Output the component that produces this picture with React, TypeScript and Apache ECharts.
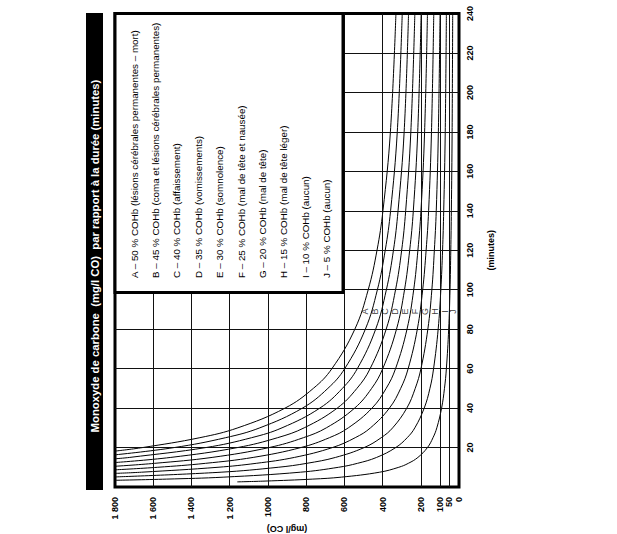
import React, { useEffect, useRef } from 'react';
import * as echarts from 'echarts';

const FONT = '"Liberation Sans", Arial, Helvetica, sans-serif';

// Curves: [minutes, mg/l CO]
const CURVE_NAMES = ['A', 'B', 'C', 'D', 'E', 'F', 'G', 'H', 'I', 'J'];
const CURVE_A = [[18.2, 1800], [20, 1655], [25, 1356], [30, 1157], [40, 910], [50, 762], [60, 665], [80, 545], [100, 475], [120, 429], [140, 398], [180, 359], [240, 330]];
const CURVE_B = [[16.3, 1800], [20, 1489], [25, 1221], [30, 1042], [40, 819], [50, 686], [60, 598], [80, 490], [100, 427], [120, 386], [140, 358], [180, 323], [240, 297]];
const CURVE_C = [[14.3, 1800], [15, 1723], [20, 1324], [25, 1085], [30, 926], [40, 728], [50, 610], [60, 532], [80, 436], [100, 380], [120, 343], [140, 319], [180, 287], [240, 264]];
const CURVE_D = [[12.4, 1800], [15, 1508], [20, 1158], [25, 949], [30, 810], [40, 637], [50, 534], [60, 465], [80, 381], [100, 332], [120, 300], [140, 279], [180, 252], [240, 231]];
const CURVE_E = [[10.5, 1800], [12, 1592], [15, 1292], [20, 993], [25, 814], [30, 694], [40, 546], [50, 457], [60, 399], [80, 327], [100, 285], [120, 258], [140, 239], [180, 216], [240, 198]];
const CURVE_F = [[8.7, 1800], [10, 1576], [12, 1326], [15, 1077], [20, 827], [25, 678], [30, 579], [40, 455], [50, 381], [60, 332], [80, 272], [100, 237], [120, 215], [140, 199], [180, 180], [240, 165]];
const CURVE_G = [[6.9, 1800], [7.5, 1661], [10, 1261], [12, 1061], [15, 861], [20, 662], [25, 543], [30, 463], [40, 364], [50, 305], [60, 266], [80, 218], [100, 190], [120, 172], [140, 159], [180, 144], [240, 132]];
const CURVE_H = [[5.1, 1800], [7.5, 1245], [10, 946], [12, 796], [15, 646], [20, 496], [25, 407], [30, 347], [40, 273], [50, 229], [60, 199], [80, 163], [100, 142], [120, 129], [140, 119], [180, 108], [240, 99]];
const CURVE_I = [[3.4, 1800], [4, 1530], [5, 1230], [7.5, 830], [10, 630], [12, 531], [15, 431], [20, 331], [25, 271], [30, 231], [40, 182], [50, 152], [60, 133], [80, 109], [100, 95], [120, 86], [140, 80], [180, 72], [240, 66]];
const CURVE_J = [[2.6, 1160], [3, 1015], [4, 765], [5, 615], [7.5, 415], [10, 315], [12, 265], [15, 215], [20, 165], [25, 136], [30, 116], [40, 91], [50, 76], [60, 66], [80, 54], [100, 47], [120, 43], [140, 40], [180, 36], [240, 33]];
const CURVES = [CURVE_A, CURVE_B, CURVE_C, CURVE_D, CURVE_E, CURVE_F, CURVE_G, CURVE_H, CURVE_I, CURVE_J];

// Curve letter positions (mg/l CO) at a given duration
const LETTER_MGL = [492, 440, 387, 335, 283, 230, 178, 126, 73, 31];
const LETTER_MIN = 89;

const X_LABEL_VALUES = [0, 50, 100, 200, 400, 600, 800, 1000, 1200, 1400, 1600, 1800];
const X_LABEL_TEXTS = ['0', '50', '100', '200', '400', '600', '800', '1000', '1 200', '1 400', '1 600', '1 800'];
const X_GRID_VALUES = [50, 100, 200, 400, 600, 800, 1000, 1200, 1400, 1600];
const Y_GRID_VALUES = [20, 40, 60, 80, 100, 120, 140, 160, 180, 200, 220];

const TITLE = 'Monoxyde de carbone  (mg/l CO)  par rapport à la durée (minutes)';
const LEGEND_TEXTS = [
  'A – 50 % COHb (lésions cérébrales permanentes – mort)',
  'B – 45 % COHb (coma et lésions cérébrales permanentes)',
  'C – 40 % COHb (affaissement)',
  'D – 35 % COHb (vomissements)',
  'E – 30 % COHb (somnolence)',
  'F – 25 % COHb (mal de tête et nausée)',
  'G – 20 % COHb (mal de tête)',
  'H – 15 % COHb (mal de tête léger)',
  'I – 10 % COHb (aucun)',
  'J – 5 % COHb (aucun)',
];

export default function App() {
  const ref = useRef<HTMLDivElement>(null);
  useEffect(() => {
    if (!ref.current) return;
    const chart = echarts.init(ref.current, null, { renderer: 'svg' });

    const curveSeries = CURVES.map((c, i) => ({
      type: 'line',
      name: CURVE_NAMES[i],
      data: c.map(([t, v]) => [v, t]),
      smooth: 0.4,
      showSymbol: false,
      symbol: 'none',
      lineStyle: { color: '#000', width: 1 },
      z: 3,
      ...(i === 0
        ? {
            markLine: {
              silent: true,
              symbol: ['none', 'none'],
              label: { show: false },
              lineStyle: { color: '#111', width: 1, type: 'solid' },
              data: [
                ...X_GRID_VALUES.map((v) => ({ xAxis: v })),
                ...Y_GRID_VALUES.map((v) => ({ yAxis: v })),
              ],
            },
          }
        : {}),
    }));

    const legendGraphics = LEGEND_TEXTS.map((txt, i) => ({
      type: 'text',
      x: 134 + i * 21.4,
      y: 278,
      rotation: Math.PI / 2,
      z: 101,
      style: {
        text: txt,
        fill: '#000',
        fontSize: 9.8,
        fontFamily: FONT,
        align: 'left',
        verticalAlign: 'middle',
      },
    }));

    chart.setOption({
      animation: false,
      backgroundColor: '#fff',
      grid: {
        left: 115,
        right: 158,
        top: 13.5,
        bottom: 47,
        containLabel: false,
        outerBoundsMode: 'none',
        show: true,
        borderColor: '#000',
        borderWidth: 3,
        backgroundColor: '#fff',
      },
      xAxis: {
        type: 'value',
        min: 0,
        max: 1800,
        interval: 50,
        inverse: true,
        position: 'bottom',
        axisLine: { show: false },
        axisTick: { show: false },
        splitLine: { show: false },
        axisLabel: {
          rotate: 90,
          margin: 10,
          fontSize: 9,
          fontWeight: 'bold',
          color: '#000',
          fontFamily: FONT,
          showMinLabel: true,
          showMaxLabel: true,
          formatter: (v: number) => {
            const idx = X_LABEL_VALUES.indexOf(v);
            return idx >= 0 ? X_LABEL_TEXTS[idx] : '';
          },
        },
        name: '(mg/l CO)',
        nameLocation: 'middle',
        nameGap: 37,
        nameRotate: 180,
        nameMoveOverlap: false,
        nameTextStyle: { fontSize: 9, fontWeight: 'bold', color: '#000', fontFamily: FONT },
      },
      yAxis: {
        type: 'value',
        min: 0,
        max: 240,
        interval: 20,
        position: 'right',
        axisLine: { show: false },
        axisTick: { show: false },
        splitLine: { show: false },
        axisLabel: {
          rotate: 90,
          margin: 6,
          fontSize: 9,
          fontWeight: 'bold',
          color: '#000',
          fontFamily: FONT,
          formatter: (v: number) => (v === 0 ? '' : String(v)),
        },
        name: '(minutes)',
        nameLocation: 'middle',
        nameGap: 27,
        nameRotate: 90,
        nameMoveOverlap: false,
        nameTextStyle: { fontSize: 9, fontWeight: 'bold', color: '#000', fontFamily: FONT },
      },
      series: [
        ...curveSeries,
        {
          type: 'scatter',
          symbol: 'circle',
          symbolSize: 1,
          itemStyle: { color: 'rgba(0,0,0,0)' },
          z: 4,
          data: LETTER_MGL.map((v, i) => ({ value: [v, LETTER_MIN], name: CURVE_NAMES[i] })),
          label: {
            show: true,
            position: 'inside',
            rotate: 90,
            fontSize: 9,
            color: '#000',
            textBorderWidth: 0,
            fontFamily: FONT,
            formatter: (p: any) => p.name,
          },
        },
      ],
      graphic: [
        {
          type: 'rect',
          z: 100,
          shape: { x: 86, y: 13, width: 17, height: 477 },
          style: { fill: '#000' },
        },
        {
          type: 'text',
          z: 101,
          x: 95,
          y: 256,
          rotation: Math.PI / 2,
          style: {
            text: TITLE,
            fill: '#fff',
            fontSize: 11.3,
            fontWeight: 'bold',
            fontFamily: FONT,
            align: 'center',
            verticalAlign: 'middle',
          },
        },
        {
          type: 'rect',
          z: 100,
          shape: { x: 115, y: 13.5, width: 228, height: 279 },
          style: { fill: '#fff', stroke: '#000', lineWidth: 3 },
        },
        ...legendGraphics,
      ],
    });
    return () => chart.dispose();
  }, []);
  return (
    <div
      ref={ref}
      style={{ position: 'absolute', left: 0, top: 0, width: 617, height: 534, background: '#fff' }}
    />
  );
}
